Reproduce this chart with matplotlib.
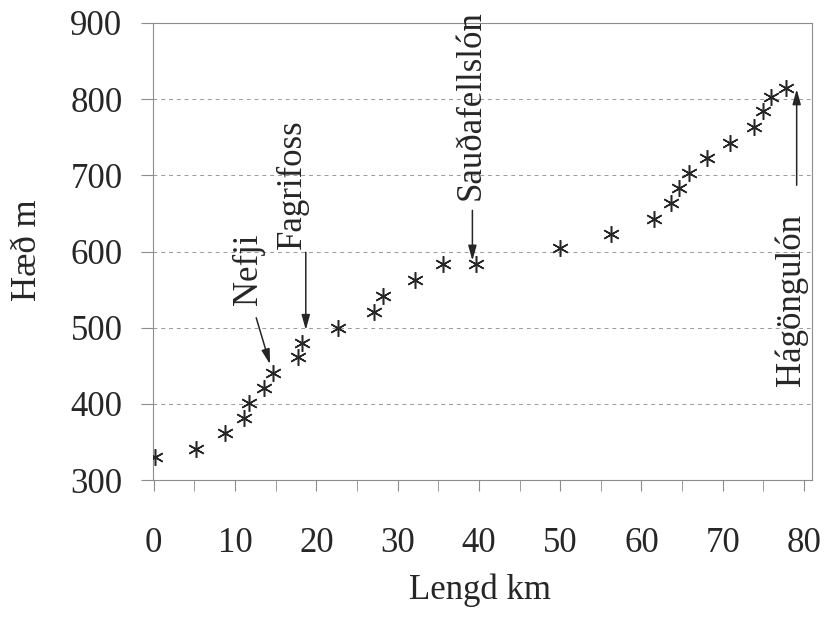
import matplotlib.pyplot as plt
from matplotlib.ticker import MultipleLocator

plt.rcParams["font.family"] = "Liberation Serif"

# ---- data (length km, elevation m) -----------------------------------------
LENGD = [0.1, 5.2, 8.7, 11.1, 11.7, 13.5, 14.7, 17.7, 18.2, 22.7, 27.1,
         28.2, 32.1, 35.6, 39.7, 50.0, 56.3, 61.5, 63.6, 64.6, 65.9,
         68.1, 70.9, 73.9, 75.0, 75.9, 77.8]
HAED = [330, 341, 362, 381, 401, 421, 440, 461, 480, 500, 520,
        541, 562, 583, 583, 604, 623, 643, 664, 684, 703,
        723, 743, 764, 784, 803, 814]

X_TICKS = [0, 10, 20, 30, 40, 50, 60, 70, 80]
Y_TICKS = [300, 400, 500, 600, 700, 800, 900]

# place names: (label, text x, text y, arrow tail, arrow head)
STADIR = [
    ("Nefji", 11.7, 576, (12.6, 513), (14.3, 452)),
    ("Fagrifoss", 17.1, 688, (18.7, 599), (18.7, 497)),
    ("Sauðafellslón", 39.0, 792, (39.2, 654), (39.2, 588)),
    ("Hágöngulón", 78.4, 536, (79.1, 687), (79.1, 813)),
]

FS = 25
GREY = "0.55"

fig = plt.figure(figsize=(8.27, 6.21), dpi=100)
ax = fig.add_axes([0.185, 0.227, 0.797, 0.736])

ax.plot(LENGD, HAED, linestyle="none", marker=(6, 2, 0), markersize=12,
        markeredgewidth=1.1, color="0.15", zorder=3)

for name, tx, ty, tail, head in STADIR:
    ax.text(tx, ty, name, rotation=90, ha="center", va="center",
            fontsize=FS, color="0.15")
    ax.annotate("", xy=head, xytext=tail,
                arrowprops=dict(arrowstyle="-|>,head_length=0.9,head_width=0.25",
                                color="0.15", lw=1.1, shrinkA=0, shrinkB=0))

ax.set_xlim(-0.1, 81)
ax.set_ylim(300, 900)
ax.set_xticks(X_TICKS)
ax.xaxis.set_minor_locator(MultipleLocator(5))
ax.set_yticks(Y_TICKS)

ax.grid(axis="y", linestyle=(0, (4, 4)), color="0.6", linewidth=0.7)
for side in ("left", "right", "top", "bottom"):
    ax.spines[side].set_color(GREY)
    ax.spines[side].set_linewidth(0.8)

ax.tick_params(axis="x", which="both", direction="out", length=8,
               color=GREY, pad=26, labelsize=FS, labelcolor="0.15")
ax.tick_params(axis="y", direction="out", length=9, color=GREY,
               pad=13, labelsize=FS, labelcolor="0.15")

fig.text(0.033, 0.597, "Hæð m", rotation=90, ha="center", va="center",
         fontsize=FS, color="0.15")
fig.text(0.580, 0.050, "Lengd km", ha="center", va="center",
         fontsize=FS, color="0.15")

fig.savefig("out.png", dpi=100)
